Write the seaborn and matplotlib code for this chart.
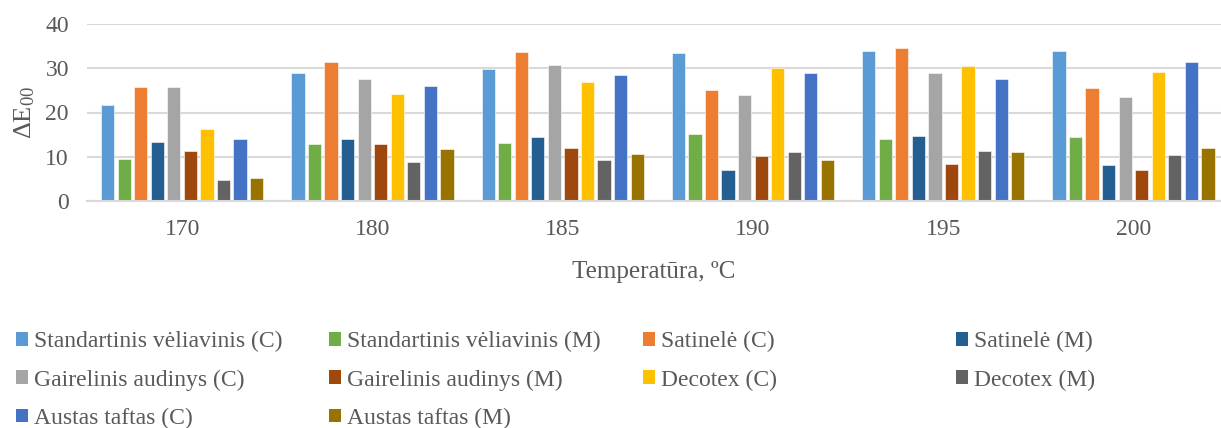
import matplotlib
matplotlib.use("Agg")
import matplotlib.pyplot as plt
from matplotlib.patches import Patch
import seaborn as sns
import pandas as pd

temperatures = ["170", "180", "185", "190", "195", "200"]

series_names = [
    "Standartinis vėliavinis (C)", "Standartinis vėliavinis (M)",
    "Satinelė (C)", "Satinelė (M)",
    "Gairelinis audinys (C)", "Gairelinis audinys (M)",
    "Decotex (C)", "Decotex (M)",
    "Austas taftas (C)", "Austas taftas (M)",
]

standartinis_c = [21.8, 28.9, 29.8, 33.4, 33.8, 33.8]
standartinis_m = [9.4, 12.9, 13.2, 15.2, 14.0, 14.4]
satinele_c = [25.8, 31.4, 33.6, 25.0, 34.5, 25.5]
satinele_m = [13.4, 14.0, 14.4, 6.9, 14.8, 8.2]
gairelinis_c = [25.7, 27.5, 30.7, 24.0, 28.9, 23.4]
gairelinis_m = [11.4, 12.9, 12.0, 10.2, 8.3, 6.9]
decotex_c = [16.3, 24.2, 26.8, 30.1, 30.6, 29.2]
decotex_m = [4.7, 8.8, 9.3, 11.0, 11.4, 10.3]
austas_c = [13.9, 25.9, 28.5, 28.9, 27.5, 31.3]
austas_m = [5.3, 11.7, 10.6, 9.3, 11.0, 11.9]

series_values = [standartinis_c, standartinis_m, satinele_c, satinele_m,
                 gairelinis_c, gairelinis_m, decotex_c, decotex_m,
                 austas_c, austas_m]

colors = ["#5B9BD5", "#70AD47", "#ED7D31", "#255E91", "#A5A5A5",
          "#9E480E", "#FFC000", "#636363", "#4472C4", "#997300"]

rows = []
for name, vals in zip(series_names, series_values):
    for t, v in zip(temperatures, vals):
        rows.append({"Temperatūra": t, "Serija": name, "dE": v})
df = pd.DataFrame(rows)

sns.set_theme(style="white")
plt.rcParams["font.family"] = ["Liberation Serif", "DejaVu Serif"]
plt.rcParams["mathtext.fontset"] = "custom"
plt.rcParams["mathtext.rm"] = "Liberation Serif"
plt.rcParams["mathtext.it"] = "Liberation Serif:italic"

text_color = "#595959"
grid_color = "#D9D9D9"
W, H = 1221, 428

fig = plt.figure(figsize=(W / 100, H / 100), dpi=100)
ax = fig.add_axes([87 / W, (H - 201) / H, (W - 87) / W, 177 / H])

sns.barplot(data=df, x="Temperatūra", y="dE", hue="Serija",
            order=temperatures, hue_order=series_names,
            palette=colors, width=0.87, gap=0.2, saturation=1,
            edgecolor="white", linewidth=0.4, legend=False, ax=ax)

ax.set_xlim(-0.5, 5.46)
ax.set_ylim(0, 40)
ax.set_yticks([0, 10, 20, 30, 40])
ax.yaxis.grid(True, color=grid_color, linewidth=1.5)
ax.set_axisbelow(True)
for side in ["top", "right", "left"]:
    ax.spines[side].set_visible(False)
ax.spines["bottom"].set_color(grid_color)
ax.spines["bottom"].set_linewidth(1.5)
ax.tick_params(axis="both", length=0, labelsize=17, colors=text_color)
ax.tick_params(axis="y", pad=13)
ax.tick_params(axis="x", pad=13)

ax.set_xlabel("Temperatūra, ºC", fontsize=18, color=text_color, labelpad=15)
ax.set_ylabel("ΔE$_{00}$", fontsize=19, color=text_color, labelpad=6)

# legend laid out row by row in four fixed-width columns
col_x = [16, 329, 643, 956]
for c, x0 in enumerate(col_x):
    idx = [i for i in (c, c + 4, c + 8) if i < len(series_names)]
    handles = [Patch(facecolor=colors[i], edgecolor="none") for i in idx]
    labels = [series_names[i] for i in idx]
    fig.legend(handles, labels, loc="upper left",
               bbox_to_anchor=(x0 / W, (H - 331) / H),
               frameon=False, fontsize=17, labelcolor=text_color,
               borderpad=0, borderaxespad=0,
               handlelength=0.5, handleheight=0.5, handletextpad=0.25,
               labelspacing=0.73)

fig.savefig("out.png", dpi=100)
